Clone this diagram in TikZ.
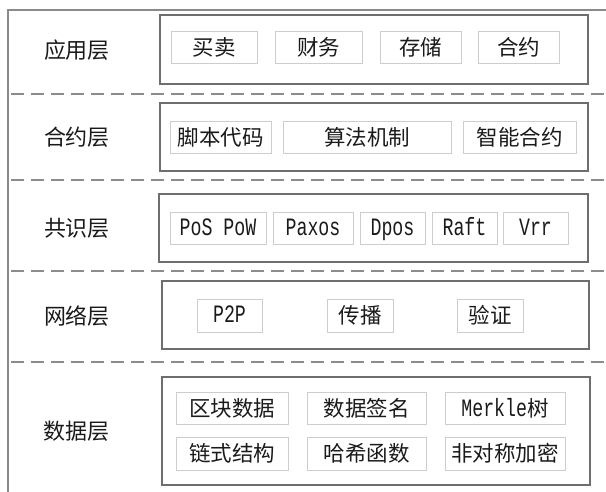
\documentclass[tikz,border=0pt]{standalone}
\usepackage{fontspec}
\newfontfamily\cjk{Noto Sans CJK SC}
\newfontfamily\lat[FakeStretch=0.73]{Liberation Mono}
\definecolor{framegray}{HTML}{8A8A8A}
\definecolor{boxgray}{HTML}{6E6E6E}
\definecolor{itemgray}{HTML}{CDCDCD}
\definecolor{dashgray}{HTML}{8C8C8C}
\definecolor{txt}{HTML}{1A1A1A}
\tikzset{
  layerbox/.style={draw=boxgray, line width=1.1pt, inner sep=0pt},
  itembox/.style={draw=itemgray, line width=0.9pt, inner sep=0pt, text=txt, font=\cjk\fontsize{21.5}{24}\selectfont, minimum height=32pt, text height=19pt, text depth=2.6pt},
  latitem/.style={itembox, font=\lat\fontsize{25}{28}\selectfont, text height=18pt, text depth=3pt},
  layerlabel/.style={inner sep=0pt, text=txt, font=\cjk\fontsize{22}{26}\selectfont},
  sep/.style={draw=dashgray, line width=1.1pt, dash pattern=on 13pt off 7pt},
}
\begin{document}
\begin{tikzpicture}[x=1pt, y=-1pt]
\useasboundingbox (0,0) rectangle (606,492);
% outer frame
\coordinate (ftr) at (606,10);
\coordinate (ftl) at (8,10);
\coordinate (fbl) at (8,492);
\draw[framegray, line width=1.1pt] (ftr) -- (ftl) -- (fbl);
% separators
\foreach \yy/\nm in {94/s1,180/s2,271/s3,362/s4}{
  \coordinate (\nm l) at (11,\yy);
  \coordinate (\nm r) at (606,\yy);
  \draw[sep] (\nm l) -- (\nm r);
}
% layer boxes
\node[layerbox, minimum width=428pt, minimum height=69pt] (L1) at (374,49.5) {};
\node[layerbox, minimum width=428pt, minimum height=68pt] (L2) at (374,137) {};
\node[layerbox, minimum width=429pt, minimum height=68pt] (L3) at (373.5,228) {};
\node[layerbox, minimum width=427pt, minimum height=68pt] (L4) at (375.5,315) {};
\node[layerbox, minimum width=428pt, minimum height=108pt] (L5) at (376,431) {};
% labels
\node[layerlabel] (n1) at (77,50) {应用层};
\node[layerlabel] (n2) at (77,137) {合约层};
\node[layerlabel] (n3) at (77,228) {共识层};
\node[layerlabel] (n4) at (77,316) {网络层};
\node[layerlabel] (n5) at (76,431) {数据层};
% row 1
\node[itembox, minimum width=86pt] (a1) at (214,47) {买卖};
\node[itembox, minimum width=87pt] (a2) at (318.5,47) {财务};
\node[itembox, minimum width=81pt] (a3) at (420.5,47) {存储};
\node[itembox, minimum width=81pt] (a4) at (518.5,47) {合约};
% row 2
\node[itembox, minimum width=101pt] (b1) at (220.5,137) {脚本代码};
\node[itembox, minimum width=168pt] (b2) at (367,137) {算法机制};
\node[itembox, minimum width=113pt] (b3) at (519.5,137) {智能合约};
% row 3
\node[latitem, minimum width=96pt] (c1) at (218,228) {PoS PoW};
\node[latitem, minimum width=80pt] (c2) at (313,228) {Paxos};
\node[latitem, minimum width=65pt] (c3) at (392.5,228) {Dpos};
\node[latitem, minimum width=65pt] (c4) at (464.5,228) {Raft};
\node[latitem, minimum width=65pt] (c5) at (535.5,228) {Vrr};
% row 4
\node[latitem, minimum width=65pt, minimum height=33pt] (d1) at (229.5,315.5) {P2P};
\node[itembox, minimum width=66pt, minimum height=33pt] (d2) at (360,315.5) {传播};
\node[itembox, minimum width=66pt, minimum height=33pt] (d3) at (490,315.5) {验证};
% row 5
\node[itembox, minimum width=112pt] (e1) at (232,408) {区块数据};
\node[itembox, minimum width=119pt] (e2) at (366.5,408) {数据签名};
\node[itembox, minimum width=120pt] (e3) at (505,408) {{\lat\fontsize{25}{28}\selectfont Merkle}树};
\node[itembox, minimum width=112pt, minimum height=33pt] (f1) at (232,453.5) {链式结构};
\node[itembox, minimum width=119pt, minimum height=33pt] (f2) at (366.5,453.5) {哈希函数};
\node[itembox, minimum width=120pt, minimum height=33pt] (f3) at (505,453.5) {非对称加密};
\end{tikzpicture}
\end{document}
